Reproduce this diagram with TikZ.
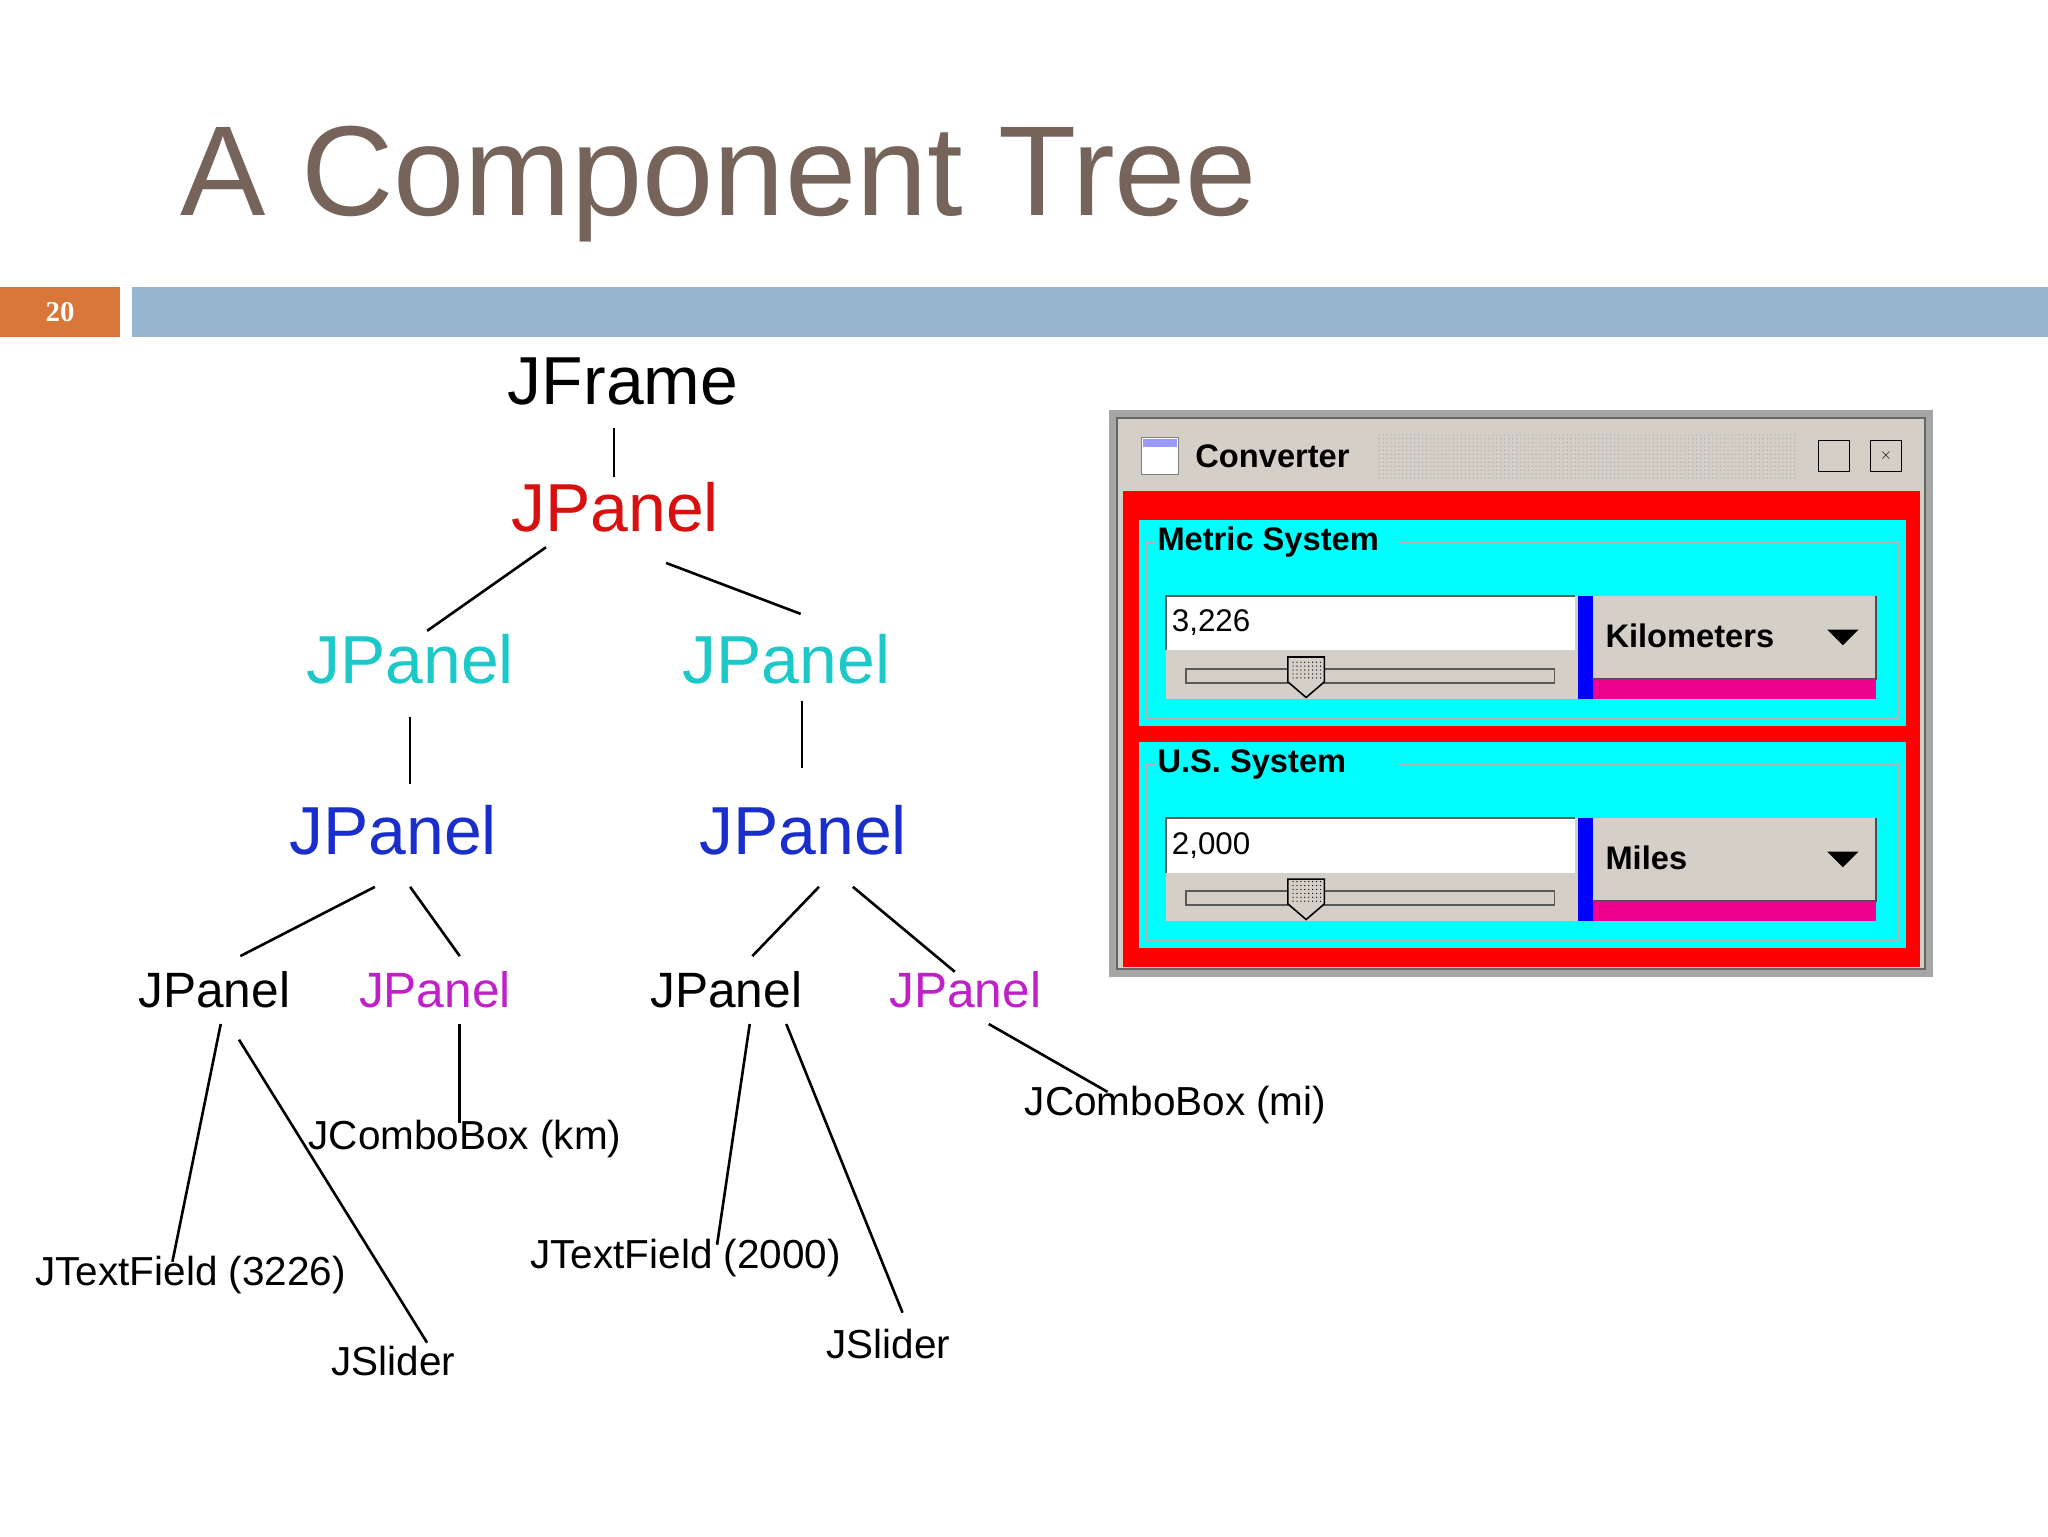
\documentclass[tikz,border=0pt]{standalone}
\usepackage{fontspec}
\setmainfont{Liberation Sans}
\usetikzlibrary{patterns}
\definecolor{titlec}{HTML}{76635A}
\definecolor{barblue}{HTML}{95B6CE}
\definecolor{barorange}{HTML}{D9773A}
\definecolor{cyanc}{HTML}{1CC8C8}
\definecolor{bluec}{HTML}{1A2ECC}
\definecolor{magc}{HTML}{C020C8}
\definecolor{redc}{HTML}{D81010}
\definecolor{winf}{HTML}{D4D0C8}
\definecolor{aqua}{HTML}{00FFFF}
\begin{document}
\begin{tikzpicture}[x=1pt,y=-1pt,
  big/.style={font=\fontsize{52}{54}\selectfont,inner sep=0},
  mid/.style={font=\fontsize{38}{40}\selectfont,inner sep=0},
  leaf/.style={font=\fontsize{31}{33}\selectfont,inner sep=0},
  edge/.style={line width=2pt},
  wt/.style={font=\bfseries\fontsize{25}{27}\selectfont,inner sep=0,anchor=west}]
\useasboundingbox (0,0) rectangle (1568,1176);
\fill[white] (0,0) rectangle (1568,1176);
\node[anchor=base west,inner sep=0,text=titlec,font=\fontsize{98}{100}\selectfont] (title) at (138,165) {A Component Tree};
\fill[barorange] (0,220) rectangle (92,258);
\node[text=white,font=\bfseries\fontsize{22}{24}\selectfont\rmfamily,inner sep=0] (num) at (46,239) {\fontspec{Liberation Serif}20};
\fill[barblue] (101,220) rectangle (1568,258);
% tree
\node[big] (jf) at (477,292) {JFrame};
\node[big,text=redc] (p0) at (471,388) {JPanel};
\node[big,text=cyanc] (p1) at (314,505) {JPanel};
\node[big,text=cyanc] (p2) at (602,505) {JPanel};
\node[big,text=bluec] (p3) at (301,636) {JPanel};
\node[big,text=bluec] (p4) at (615,636) {JPanel};
\node[mid] (a) at (164,758) {JPanel};
\node[mid,text=magc] (b) at (333,758) {JPanel};
\node[mid] (c) at (556,758) {JPanel};
\node[mid,text=magc] (d) at (739,758) {JPanel};
\node[leaf] (ck) at (356,872) {JComboBox (km)};
\node[leaf] (t1) at (146,976) {JTextField (3226)};
\node[leaf] (s1) at (301,1042) {JSlider};
\node[leaf] (t2) at (525,963) {JTextField (2000)};
\node[leaf] (s2) at (680,1029) {JSlider};
\node[leaf] (cm) at (900,846) {JComboBox (mi)};
\foreach \n/\p in {e1a/{470,328},e1b/{470,365},e2a/{418,419},e2b/{327,483},e3a/{510,431},e3b/{613,470},
 e4a/{314,549},e4b/{314,600},e5a/{614,537},e5b/{614,588},e6a/{287,679},e6b/{184,732},e7a/{314,679},e7b/{352,732},
 e8a/{627,679},e8b/{576,732},e9a/{653,679},e9b/{731,744},f1a/{169,784},f1b/{132,966},f2a/{183,796},f2b/{327,1028},
 f3a/{352,784},f3b/{352,860},f4a/{574,784},f4b/{549,953},f5a/{602,784},f5b/{691,1005},f6a/{757,784},f6b/{848,836}}
 {\coordinate (\n) at (\p);}
\foreach \e in {e1,e2,e3,e4,e5,e6,e7,e8,e9,f1,f2,f3,f4,f5,f6}
 {\draw[edge] (\e a) -- (\e b);}
% converter window
\fill[gray!70] (849,314) rectangle (1480,748);
\fill[winf] (855,320) rectangle (1474,742);
\draw[gray!80!black,line width=1.5pt] (855,320) rectangle (1474,742);
\fill[red] (860,376) rectangle (1470,740);
\node[draw=gray,fill=white,minimum width=28,minimum height=28,inner sep=0] (icon) at (888,349) {};
\fill[blue!40] (875,336) rectangle (901,342);
\node[wt] (cv) at (915,349) {Converter};
\fill[pattern=dots,pattern color=gray!70] (1055,333) rectangle (1375,367);
\node[draw=black,fill=winf,minimum width=24,minimum height=24,inner sep=0] (bt1) at (1404,349) {};
\node[draw=black,fill=winf,minimum width=24,minimum height=24,inner sep=0,font=\bfseries\large] (bt2) at (1444,349) {$\times$};
\foreach \dy/\lab/\val/\unit in {0/Metric System/3{,}226/Kilometers, 170/U.S. System/2{,}000/Miles}{
 \begin{scope}[yshift=-\dy]
 \fill[aqua] (872,398) rectangle (1459,556);
 \draw[gray!60,line width=1.5pt] (878,415) rectangle (1453,550);
 \fill[aqua] (884,400) rectangle (1072,430);
 \node[wt] at (886,415) {\lab};
 \fill[winf] (893,456) rectangle (1208,535);
 \fill[white] (893,456) rectangle (1206,498);
 \draw[gray!70!black,line width=1.5pt] (893,498) -- (893,456) -- (1206,456);
 \node[anchor=west,inner sep=0,font=\fontsize{24}{26}\selectfont] at (897,477) {\val};
 \draw[gray!70!black,fill=winf,line width=1.2pt] (908,512) rectangle (1190,523);
 \draw[black,fill=winf,line width=1.2pt] (986,503) -- (1014,503) -- (1014,522) -- (1000,534) -- (986,522) -- cycle;
 \fill[pattern=dots] (988,505) rectangle (1012,520);
 \fill[blue] (1208,456) rectangle (1220,535);
 \fill[winf] (1220,456) rectangle (1436,520);
 \draw[gray!60!black,line width=1.5pt] (1220,520) -- (1436,520) -- (1436,456);
 \fill[magenta] (1220,520) rectangle (1436,535);
 \node[wt] at (1229,487) {\unit};
 \fill[black] (1399,482) -- (1423,482) -- (1411,494) -- cycle;
 \end{scope}}
\end{tikzpicture}
\end{document}
